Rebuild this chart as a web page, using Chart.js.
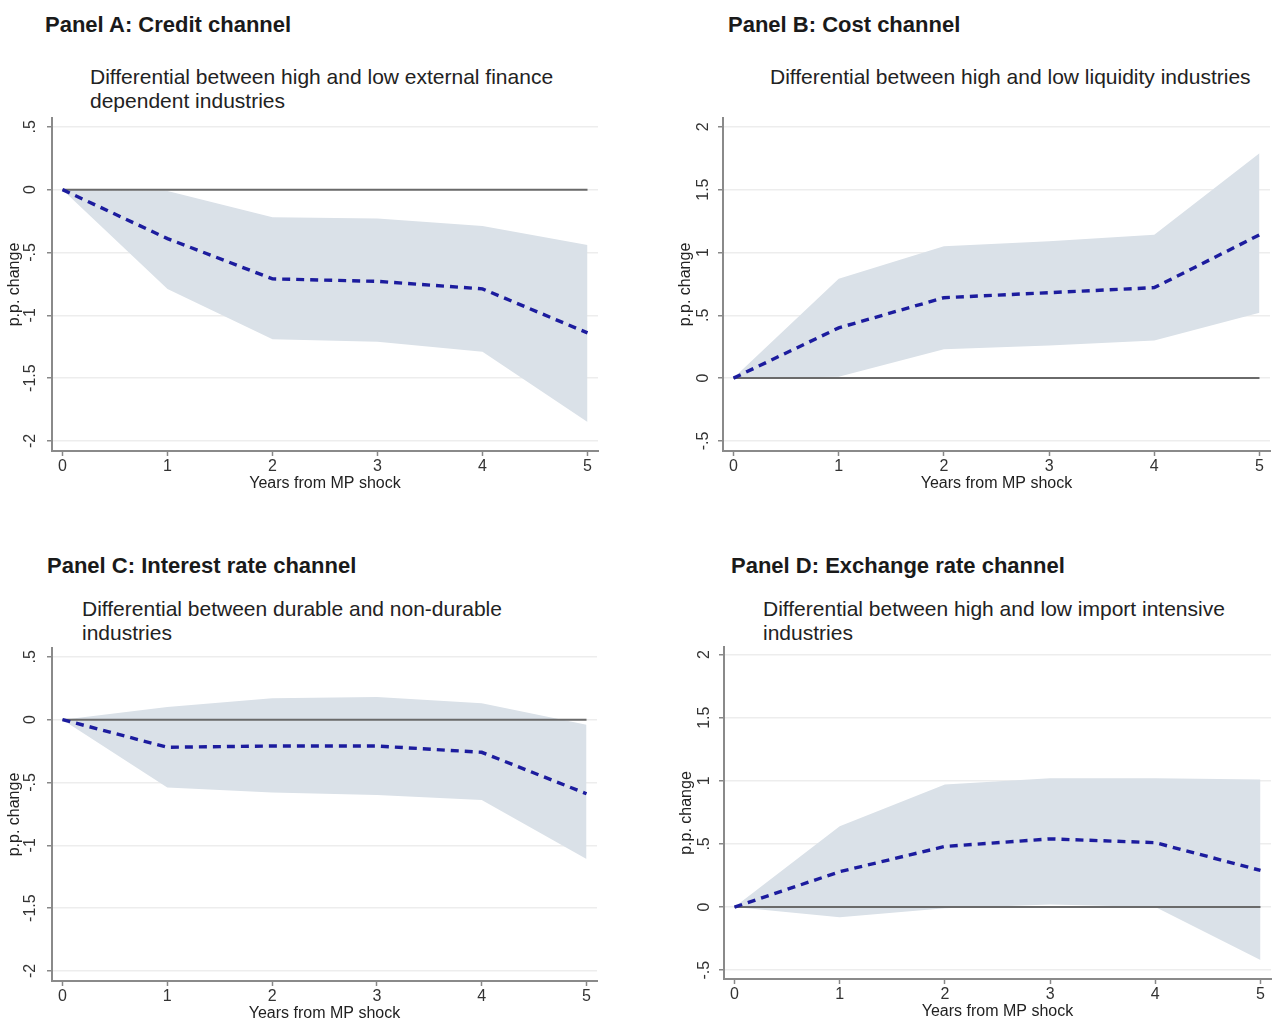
<!DOCTYPE html>
<html>
<head>
<meta charset="utf-8">
<script src="https://cdn.jsdelivr.net/npm/chart.js@4"></script>
<style>
  html, body { margin:0; padding:0; background:#fff; overflow:hidden; }
  body { width:1274px; height:1021px; position:relative; font-family:"Liberation Sans", Arial, sans-serif; color:#1a1a1a; }
  .ptitle { position:absolute; font-weight:bold; font-size:22px; line-height:26px; white-space:nowrap; }
  .sub { position:absolute; font-size:21px; line-height:24px; white-space:nowrap; color:#222; }
  canvas { position:absolute; }
</style>
</head>
<body>
<div class="ptitle" style="left:45px; top:12px;">Panel A: Credit channel</div>
<div class="sub" style="left:90px; top:65px;">Differential between high and low external finance<br>dependent industries</div>
<div class="ptitle" style="left:728px; top:12px;">Panel B: Cost channel</div>
<div class="sub" style="left:770px; top:65px;">Differential between high and low liquidity industries</div>
<div class="ptitle" style="left:47px; top:553px;">Panel C: Interest rate channel</div>
<div class="sub" style="left:82px; top:597px;">Differential between durable and non-durable<br>industries</div>
<div class="ptitle" style="left:731px; top:553px;">Panel D: Exchange rate channel</div>
<div class="sub" style="left:763px; top:597px;">Differential between high and low import intensive<br>industries</div>

<canvas id="cA"></canvas>
<canvas id="cB"></canvas>
<canvas id="cC"></canvas>
<canvas id="cD"></canvas>

<script>
// ---- data ----
const years = [0, 1, 2, 3, 4, 5];
const xTicks = [0, 1, 2, 3, 4, 5];
const yTicksNeg = [0.5, 0, -0.5, -1, -1.5, -2];
const yTicksPos = [2, 1.5, 1, 0.5, 0, -0.5];

const aEst = [0, -0.39, -0.71, -0.73, -0.79, -1.14];
const aUp  = [0, -0.01, -0.22, -0.23, -0.29, -0.44];
const aLo  = [0, -0.79, -1.19, -1.21, -1.29, -1.85];

const bEst = [0, 0.40, 0.64, 0.68, 0.72, 1.14];
const bUp  = [0, 0.79, 1.05, 1.09, 1.14, 1.79];
const bLo  = [0, 0.01, 0.23, 0.26, 0.30, 0.52];

const cEst = [0, -0.22, -0.21, -0.21, -0.26, -0.59];
const cUp  = [0, 0.10, 0.17, 0.18, 0.13, -0.04];
const cLo  = [0, -0.54, -0.58, -0.60, -0.64, -1.11];

const dEst = [0, 0.28, 0.48, 0.54, 0.51, 0.29];
const dUp  = [0, 0.64, 0.97, 1.02, 1.02, 1.01];
const dLo  = [0, -0.08, -0.01, 0.02, 0.00, -0.42];

const xLabel = "Years from MP shock";
const yLabel = "p.p. change";

// ---- drawing ----
function fmt(v) {
  if (v === 0) return "0";
  let s = String(v);
  s = s.replace(/^0\./, ".").replace(/^-0\./, "-.");
  return s;
}
function pts(ys) { return years.map((x, i) => ({x: x, y: ys[i]})); }

const FONT = "'Liberation Sans', Arial, sans-serif";

function makePanel(id, canvasLeft, canvasTop, area, yTicks, yMin, yMax, est, up, lo) {
  const cv = document.getElementById(id);
  const padRight = 6;
  const xAxisH = 42;
  const w = area.right - canvasLeft + padRight;
  const h = area.bottom - canvasTop + xAxisH;
  cv.style.left = canvasLeft + "px";
  cv.style.top = canvasTop + "px";
  cv.width = w; cv.height = h;
  cv.style.width = w + "px"; cv.style.height = h + "px";
  const yAxisW = area.left - canvasLeft;
  new Chart(cv, {
    type: 'line',
    data: {
      datasets: [
        { data: pts(est), borderColor: 'rgb(28,28,158)', borderWidth: 3.4, borderDash: [8, 6],
          pointRadius: 0, fill: false, tension: 0, order: 0 },
        { data: [{x: years[0], y: 0}, {x: years[years.length - 1], y: 0}], borderColor: '#6a6a6a',
          borderWidth: 2, pointRadius: 0, fill: false, order: 1 },
        { data: pts(up), borderWidth: 0, borderColor: 'rgba(0,0,0,0)', pointRadius: 0,
          backgroundColor: '#dae1e8', fill: '+1', tension: 0, order: 2 },
        { data: pts(lo), borderWidth: 0, borderColor: 'rgba(0,0,0,0)', pointRadius: 0,
          fill: false, tension: 0, order: 3 }
      ]
    },
    options: {
      responsive: false,
      animation: false,
      events: [],
      layout: { padding: { top: area.top - canvasTop, right: padRight, left: 0, bottom: 0 } },
      plugins: { legend: { display: false }, tooltip: { enabled: false } },
      scales: {
        x: {
          type: 'linear', min: -0.1, max: 5.1,
          afterBuildTicks: s => { s.ticks = xTicks.map(v => ({value: v})); },
          afterFit: s => { s.height = xAxisH; s.paddingLeft = 0; s.paddingRight = 0; },
          grid: { drawOnChartArea: false, drawTicks: true, tickLength: 5, tickColor: '#888', tickWidth: 1.5 },
          border: { display: true, color: '#8a8a8a', width: 2 },
          ticks: { autoSkip: false, padding: 1, color: '#333', font: { family: FONT, size: 16 },
                   maxRotation: 0, callback: v => fmt(v) },
          title: { display: true, text: xLabel, color: '#222', font: { family: FONT, size: 16 },
                   padding: { top: 0, bottom: 0 } }
        },
        y: {
          type: 'linear', min: yMin, max: yMax,
          afterBuildTicks: s => { s.ticks = yTicks.map(v => ({value: v})); },
          afterFit: s => { s.width = yAxisW; s.paddingTop = 0; s.paddingBottom = 0; },
          grid: { color: '#ededed', lineWidth: 1.5, drawTicks: true, tickLength: 5, tickColor: '#888', tickWidth: 1.5 },
          border: { display: true, color: '#8a8a8a', width: 2 },
          ticks: { autoSkip: false, padding: 3, color: '#333', font: { family: FONT, size: 16 },
                   minRotation: 90, maxRotation: 90, crossAlign: 'center', callback: v => fmt(v) },
          title: { display: true, text: yLabel, color: '#222', font: { family: FONT, size: 16 },
                   padding: { top: 5, bottom: 0 } }
        }
      }
    }
  });
}

makePanel('cA', 0, 110, {left: 52, top: 118, right: 598, bottom: 451}, yTicksNeg, -2.08, 0.57, aEst, aUp, aLo);
makePanel('cB', 671, 110, {left: 723, top: 118, right: 1270, bottom: 451}, yTicksPos, -0.58, 2.07, bEst, bUp, bLo);
makePanel('cC', 0, 640, {left: 52, top: 648, right: 597, bottom: 981}, yTicksNeg, -2.08, 0.57, cEst, cUp, cLo);
makePanel('cD', 672, 640, {left: 724, top: 647, right: 1271, bottom: 979}, yTicksPos, -0.57, 2.06, dEst, dUp, dLo);
</script>
</body>
</html>
